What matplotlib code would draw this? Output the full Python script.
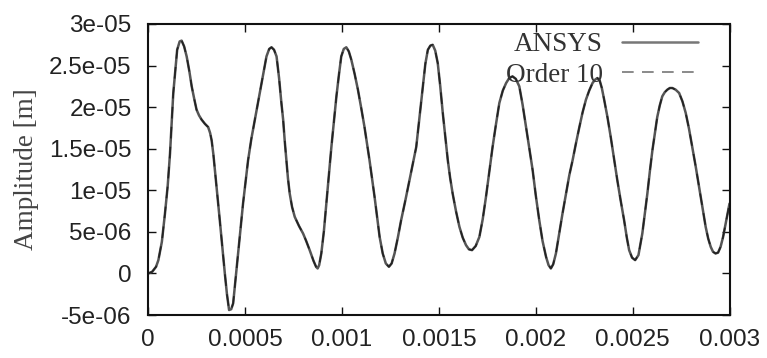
import matplotlib
matplotlib.use("Agg")
import matplotlib.pyplot as plt
from matplotlib.ticker import FuncFormatter

# time [ms] -> scaled to seconds below
time_ms = [
    0.000, 0.020, 0.040, 0.052, 0.070, 0.086, 0.100, 0.112, 0.129, 0.149,
    0.162, 0.172, 0.185, 0.198, 0.212, 0.224, 0.237, 0.249, 0.262, 0.275,
    0.292, 0.309, 0.319, 0.327, 0.336, 0.344, 0.357, 0.369, 0.382, 0.395,
    0.406, 0.417, 0.428, 0.438, 0.450, 0.464, 0.476, 0.489, 0.502, 0.515,
    0.532, 0.550, 0.575, 0.593, 0.610, 0.624, 0.636, 0.649, 0.662, 0.675,
    0.687, 0.696, 0.704, 0.713, 0.721, 0.730, 0.742, 0.756, 0.778, 0.799,
    0.815, 0.833, 0.853, 0.866, 0.874, 0.882, 0.893, 0.906, 0.919, 0.932,
    0.945, 0.958, 0.971, 0.984, 0.996, 1.009, 1.022, 1.035, 1.048, 1.065,
    1.082, 1.099, 1.116, 1.129, 1.142, 1.155, 1.168, 1.181, 1.194, 1.210,
    1.226, 1.242, 1.256, 1.271, 1.288, 1.305, 1.327, 1.348, 1.366, 1.383,
    1.400, 1.417, 1.430, 1.443, 1.456, 1.468, 1.481, 1.494, 1.507, 1.520,
    1.533, 1.546, 1.558, 1.571, 1.589, 1.606, 1.623, 1.640, 1.655, 1.671,
    1.690, 1.709, 1.726, 1.743, 1.760, 1.777, 1.795, 1.812, 1.830, 1.847,
    1.863, 1.880, 1.897, 1.915, 1.932, 1.950, 1.967, 1.984, 2.000, 2.018,
    2.035, 2.053, 2.066, 2.078, 2.090, 2.104, 2.121, 2.138, 2.156, 2.173,
    2.190, 2.207, 2.225, 2.242, 2.259, 2.276, 2.293, 2.306, 2.318, 2.330,
    2.341, 2.353, 2.370, 2.387, 2.404, 2.421, 2.438, 2.456, 2.470, 2.482,
    2.497, 2.513, 2.530, 2.550, 2.563, 2.576, 2.589, 2.602, 2.615, 2.627,
    2.640, 2.653, 2.666, 2.679, 2.692, 2.705, 2.722, 2.740, 2.757, 2.774,
    2.791, 2.808, 2.826, 2.843, 2.860, 2.877, 2.890, 2.903, 2.915, 2.928,
    2.941, 2.954, 2.967, 2.980, 2.990, 3.000,
]

# amplitude [1e-6 m]
ansys_um = [
    0.0, 0.2, 0.8, 1.6, 3.8, 7.2, 10.5, 14.4, 21.7, 26.9,
    27.9, 28.0, 27.3, 26.1, 24.3, 22.5, 21.0, 19.7, 19.0, 18.5,
    18.0, 17.6, 16.9, 16.0, 14.3, 12.4, 9.4, 6.4, 3.2, 0.0,
    -2.5, -4.4, -4.3, -3.6, -0.8, 2.4, 5.4, 8.4, 11.0, 13.6,
    16.2, 18.5, 21.7, 24.0, 26.1, 27.0, 27.2, 26.9, 26.1, 23.5,
    20.5, 18.5, 16.0, 13.6, 11.4, 9.6, 8.0, 6.8, 5.7, 4.8,
    3.9, 2.8, 1.5, 0.8, 0.6, 1.0, 2.4, 5.0, 8.4, 11.8,
    15.2, 18.3, 21.3, 23.9, 26.1, 27.0, 27.2, 26.7, 25.7, 24.0,
    22.1, 19.9, 17.6, 15.6, 13.6, 11.4, 9.2, 6.8, 4.4, 2.4,
    1.2, 0.8, 1.2, 2.4, 4.3, 6.4, 8.8, 11.2, 13.2, 15.2,
    18.8, 22.5, 25.2, 26.9, 27.4, 27.5, 26.8, 25.3, 22.5, 19.3,
    16.4, 13.6, 11.5, 9.6, 7.4, 5.6, 4.3, 3.4, 2.9, 2.8,
    3.3, 4.4, 6.5, 9.2, 12.2, 15.2, 18.0, 20.5, 22.0, 22.9,
    23.5, 23.7, 23.4, 22.5, 20.3, 17.6, 15.0, 12.4, 9.4, 6.4,
    3.9, 2.0, 1.0, 0.6, 1.1, 2.4, 4.8, 7.2, 9.6, 11.8,
    13.6, 15.6, 17.6, 19.4, 20.9, 22.0, 22.9, 23.3, 23.5, 23.2,
    22.3, 20.9, 18.8, 16.4, 13.8, 11.2, 8.8, 6.4, 4.3, 2.8,
    1.9, 1.6, 2.2, 4.8, 7.2, 9.6, 12.3, 14.8, 16.9, 18.8,
    20.2, 21.3, 21.8, 22.1, 22.3, 22.3, 22.1, 21.7, 20.7, 19.3,
    17.4, 15.2, 12.8, 10.4, 8.0, 5.6, 4.2, 3.2, 2.6, 2.4,
    2.5, 3.2, 4.4, 6.0, 7.2, 8.4,
]
order10_um = list(ansys_um)

x_ticks = [0, 0.0005, 0.001, 0.0015, 0.002, 0.0025, 0.003]
y_ticks = [-5e-6, 0, 5e-6, 1e-5, 1.5e-5, 2e-5, 2.5e-5, 3e-5]

t = [v * 1e-3 for v in time_ms]
a1 = [v * 1e-6 for v in ansys_um]
a2 = [v * 1e-6 for v in order10_um]

plt.rcParams['font.family'] = ['Liberation Sans', 'DejaVu Sans']
plt.rcParams['font.size'] = 17.5
SERIF = ['Liberation Serif', 'DejaVu Serif']

fig = plt.figure(figsize=(7.67, 3.58), dpi=100)
ax = fig.add_axes([148.3 / 767, 43 / 358, (729.5 - 148.3) / 767, 291 / 358])

ax.plot(t, a1, color='#555555', lw=1.8, solid_capstyle='round', label='ANSYS')
ax.plot(t, a2, color='#222222', lw=1.2, linestyle=(0, (7, 5)), label='Order 10')

ax.set_xlim(0, 0.003)
ax.set_ylim(-5e-6, 3e-5)
ax.set_xticks(x_ticks)
ax.set_yticks(y_ticks)
fmt = FuncFormatter(lambda v, p: '%g' % v)
ax.xaxis.set_major_formatter(fmt)
ax.yaxis.set_major_formatter(fmt)
ax.tick_params(direction='in', top=True, right=True, length=6, width=1.0,
               colors='#111111', labelcolor='#222222')
ax.tick_params(axis='x', pad=10)
ax.tick_params(axis='y', pad=12)
for s in ax.spines.values():
    s.set_linewidth(1.5)
    s.set_color('#111111')

ax.set_ylabel('Amplitude [m]', color='#444444', family=SERIF, fontsize=19.5)
ax.yaxis.set_label_coords(-0.188, 0.5)

leg = ax.legend(loc='upper right', bbox_to_anchor=(0.9458, 0.972), frameon=False,
                markerfirst=False, handlelength=2.8, handletextpad=0.72,
                borderpad=0, borderaxespad=0, labelspacing=0.2,
                prop={'family': SERIF, 'size': 19.5})
for tt in leg.get_texts():
    tt.set_color('#333333')
for h in leg.get_lines():
    h.set_color('#777777')

fig.savefig('out.png', dpi=100)
